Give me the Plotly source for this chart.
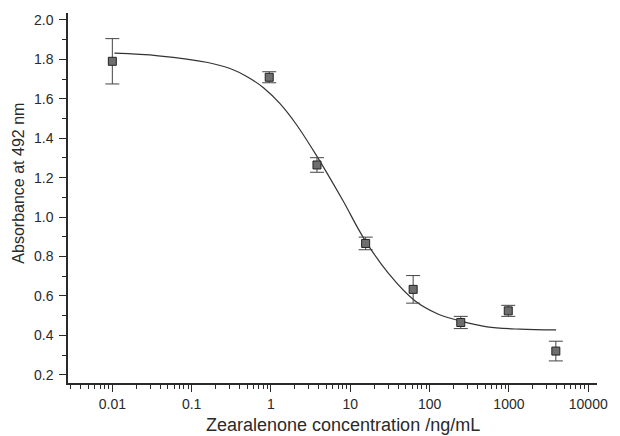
import plotly.graph_objects as go

# Measured data (concentration ng/mL, absorbance, error)
conc = [0.01, 0.95, 3.8, 15.6, 62, 247, 980, 3900]
absorb = [1.79, 1.709, 1.264, 0.866, 0.633, 0.465, 0.524, 0.320]
err = [0.115, 0.028, 0.037, 0.032, 0.07, 0.031, 0.028, 0.05]

# Fitted curve, points
curve_x = [0.0106, 0.038, 0.16, 0.31, 0.5, 0.81, 1.3, 2.1, 3.7, 8.0, 14.8,
           30.3, 65.2, 127, 248, 530, 1380, 3930]
curve_y = [1.831, 1.818, 1.784, 1.752, 1.712, 1.655, 1.575, 1.468, 1.315,
           1.086, 0.892, 0.714, 0.575, 0.508, 0.472, 0.443, 0.431, 0.427]

x_tickvals = [0.01, 0.1, 1, 10, 100, 1000, 10000]
x_ticktext = ["0.01", "0.1", "1", "10", "100", "1000", "10000"]

x_title = "Zearalenone concentration /ng/mL"
y_title = "Absorbance at 492 nm"

axis_col = "#2a2a2a"
font = dict(family="Liberation Sans, Arial, sans-serif", size=14, color=axis_col)

fig = go.Figure()
fig.add_trace(go.Scatter(
    x=curve_x, y=curve_y, mode="lines",
    line=dict(color="#333333", width=1.2, shape="spline", smoothing=1.0),
    hoverinfo="skip", showlegend=False))
fig.add_trace(go.Scatter(
    x=conc, y=absorb, mode="markers",
    marker=dict(symbol="square", size=8, color="#6e6e6e",
                line=dict(color="#222222", width=1)),
    error_y=dict(type="data", array=err, visible=True, color="#444444",
                 thickness=1, width=7),
    showlegend=False))

fig.update_layout(
    width=620, height=436,
    margin=dict(l=68, r=15, t=13, b=53),
    paper_bgcolor="white", plot_bgcolor="white",
    font=font,
    xaxis=dict(
        type="log", range=[-2.559, 4.11],
        tickvals=x_tickvals, ticktext=x_ticktext,
        ticks="outside", ticklen=7, tickwidth=1.2, tickcolor=axis_col,
        showline=True, linecolor=axis_col, linewidth=1.5,
        showgrid=False, zeroline=False,
        minor=dict(ticks="outside", ticklen=4, tickwidth=1, tickcolor=axis_col,
                   dtick="D1", showgrid=False),
        tickfont=dict(size=14), ticklabelstandoff=0,
    ),
    yaxis=dict(
        range=[0.158, 2.035],
        tick0=0.2, dtick=0.2, tickformat=".1f",
        ticks="outside", ticklen=7, tickwidth=1.2, tickcolor=axis_col,
        showline=True, linecolor=axis_col, linewidth=1.5,
        showgrid=False, zeroline=False,
        minor=dict(ticks="outside", ticklen=4, tickwidth=1, tickcolor=axis_col,
                   dtick=0.1, showgrid=False),
        tickfont=dict(size=14), ticklabelstandoff=3,
    ),
    annotations=[
        dict(text=x_title, xref="paper", yref="paper", x=0.5196, y=-0.113,
             xanchor="center", yanchor="middle", showarrow=False,
             font=dict(size=18, color=axis_col)),
        dict(text=y_title, xref="paper", yref="paper", x=-0.0925, y=0.539,
             xanchor="center", yanchor="middle", showarrow=False, textangle=-90,
             font=dict(size=16, color=axis_col)),
    ],
)

fig.write_html("out.html", post_script="document.body.style.margin='0';",
               config={"displayModeBar": False})
